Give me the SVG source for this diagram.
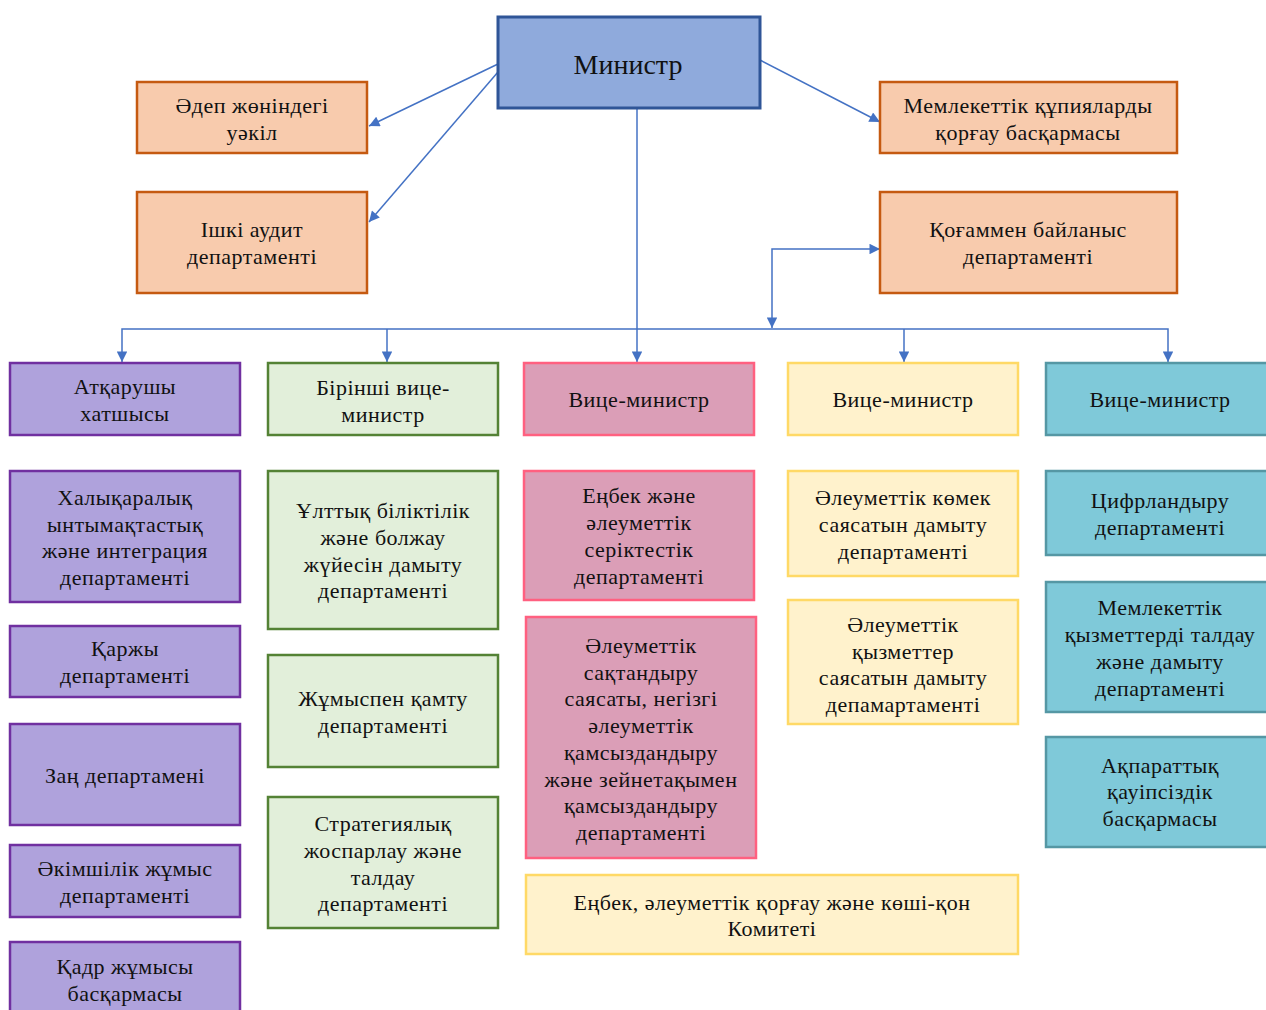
<svg xmlns="http://www.w3.org/2000/svg" width="1266" height="1010" viewBox="0 0 1266 1010">
<defs>
<marker id="ah" viewBox="0 0 10 10" refX="10" refY="5" markerWidth="8" markerHeight="7" markerUnits="strokeWidth" orient="auto-start-reverse">
<path d="M0,0 L10,5 L0,10 z" fill="#4472C4"/>
</marker>
<style>
text{font-family:"Liberation Serif","Times New Roman",serif;font-size:22px;letter-spacing:0.5px;fill:#111;text-anchor:middle}
.big{font-size:28px;letter-spacing:0}
rect{stroke-width:2.5}
.min{fill:#8FAADC;stroke:#2F5597;stroke-width:3}
.or{fill:#F8CBAD;stroke:#C55A11}
.pu{fill:#AFA2DC;stroke:#7030A0}
.gr{fill:#E2EFDA;stroke:#548235}
.pk{fill:#DB9EB7;stroke:#FF6080}
.ye{fill:#FFF2CC;stroke:#FFD966}
.te{fill:#7FC9D9;stroke:#5597A4}
.c{fill:none;stroke:#4472C4;stroke-width:1.5}
</style>
</defs>
<rect width="1266" height="1010" fill="#fff"/>
<g id="connectors">
<line class="c" x1="498" y1="64" x2="369" y2="126" marker-end="url(#ah)"/>
<line class="c" x1="498" y1="72" x2="369" y2="222" marker-end="url(#ah)"/>
<line class="c" x1="760" y1="60" x2="880" y2="122" marker-end="url(#ah)"/>
<line class="c" x1="637" y1="108" x2="637" y2="362" marker-end="url(#ah)"/>
<polyline class="c" points="122,362 122,329 1168,329 1168,362" marker-start="url(#ah)" marker-end="url(#ah)"/>
<line class="c" x1="387" y1="329" x2="387" y2="362" marker-end="url(#ah)"/>
<line class="c" x1="904" y1="329" x2="904" y2="362" marker-end="url(#ah)"/>
<polyline class="c" points="772,328 772,249 880,249" marker-start="url(#ah)" marker-end="url(#ah)"/>
</g>
<g id="minister"><rect class="min" x="498" y="17" width="262" height="91"/><text class="big" x="628" y="74">Министр</text></g>
<g id="adep"><rect class="or" x="137" y="82" width="230" height="71"/><text x="252" y="113">Әдеп жөніндегі</text><text x="252" y="140">уәкіл</text></g>
<g id="audit"><rect class="or" x="137" y="192" width="230" height="101"/><text x="252" y="237">Ішкі аудит</text><text x="252" y="264">департаменті</text></g>
<g id="qupiya"><rect class="or" x="880" y="82" width="297" height="71"/><text x="1028" y="113">Мемлекеттік құпияларды</text><text x="1028" y="140">қорғау басқармасы</text></g>
<g id="qogam"><rect class="or" x="880" y="192" width="297" height="101"/><text x="1028" y="237">Қоғаммен байланыс</text><text x="1028" y="264">департаменті</text></g>

<g id="hatshy"><rect class="pu" x="10" y="363" width="230" height="72"/><text x="125" y="394">Атқарушы</text><text x="125" y="421">хатшысы</text></g>
<g id="birinshi"><rect class="gr" x="268" y="363" width="230" height="72"/><text x="383" y="395">Бірінші вице-</text><text x="383" y="422">министр</text></g>
<g id="vice-pink"><rect class="pk" x="524" y="363" width="230" height="72"/><text x="639" y="407">Вице-министр</text></g>
<g id="vice-yellow"><rect class="ye" x="788" y="363" width="230" height="72"/><text x="903" y="407">Вице-министр</text></g>
<g id="vice-teal"><rect class="te" x="1046" y="363" width="230" height="72"/><text x="1160" y="407">Вице-министр</text></g>

<g id="halyq"><rect class="pu" x="10" y="471" width="230" height="131"/><text x="125" y="505">Халықаралық</text><text x="125" y="532">ынтымақтастық</text><text x="125" y="558">және интеграция</text><text x="125" y="585">департаменті</text></g>
<g id="qarzhy"><rect class="pu" x="10" y="626" width="230" height="71"/><text x="125" y="656">Қаржы</text><text x="125" y="683">департаменті</text></g>
<g id="zan"><rect class="pu" x="10" y="724" width="230" height="101"/><text x="125" y="783">Заң департамені</text></g>
<g id="akimshilik"><rect class="pu" x="10" y="845" width="230" height="72"/><text x="125" y="876">Әкімшілік жұмыс</text><text x="125" y="903">департаменті</text></g>
<g id="qadr"><rect class="pu" x="10" y="942" width="230" height="80"/><text x="125" y="974">Қадр жұмысы</text><text x="125" y="1001">басқармасы</text></g>

<g id="ulttyq"><rect class="gr" x="268" y="471" width="230" height="158"/><text x="383" y="518">Ұлттық біліктілік</text><text x="383" y="545">және болжау</text><text x="383" y="572">жүйесін дамыту</text><text x="383" y="598">департаменті</text></g>
<g id="zhumyspen"><rect class="gr" x="268" y="655" width="230" height="112"/><text x="383" y="706">Жұмыспен қамту</text><text x="383" y="733">департаменті</text></g>
<g id="strateg"><rect class="gr" x="268" y="797" width="230" height="131"/><text x="383" y="831">Стратегиялық</text><text x="383" y="858">жоспарлау және</text><text x="383" y="885">талдау</text><text x="383" y="911">департаменті</text></g>

<g id="enbek"><rect class="pk" x="524" y="471" width="230" height="129"/><text x="639" y="503">Еңбек және</text><text x="639" y="530">әлеуметтік</text><text x="639" y="557">серіктестік</text><text x="639" y="584">департаменті</text></g>
<g id="saqtandyru"><rect class="pk" x="526" y="617" width="230" height="241"/><text x="641" y="653">Әлеуметтік</text><text x="641" y="680">сақтандыру</text><text x="641" y="706">саясаты, негізгі</text><text x="641" y="733">әлеуметтік</text><text x="641" y="760">қамсыздандыру</text><text x="641" y="787">және зейнетақымен</text><text x="641" y="813">қамсыздандыру</text><text x="641" y="840">департаменті</text></g>

<g id="komek"><rect class="ye" x="788" y="471" width="230" height="105"/><text x="903" y="505">Әлеуметтік көмек</text><text x="903" y="532">саясатын дамыту</text><text x="903" y="559">департаменті</text></g>
<g id="qyzmetter"><rect class="ye" x="788" y="600" width="230" height="124"/><text x="903" y="632">Әлеуметтік</text><text x="903" y="659">қызметтер</text><text x="903" y="685">саясатын дамыту</text><text x="903" y="712">депамартаменті</text></g>
<g id="komitet"><rect class="ye" x="526" y="875" width="492" height="79"/><text x="772" y="910">Еңбек, әлеуметтік қорғау және көші-қон</text><text x="772" y="936">Комитеті</text></g>

<g id="cifr"><rect class="te" x="1046" y="471" width="230" height="84"/><text x="1160" y="508">Цифрландыру</text><text x="1160" y="535">департаменті</text></g>
<g id="memqyzmet"><rect class="te" x="1046" y="582" width="230" height="130"/><text x="1160" y="615">Мемлекеттік</text><text x="1160" y="642">қызметтерді талдау</text><text x="1160" y="669">және дамыту</text><text x="1160" y="696">департаменті</text></g>
<g id="aqparat"><rect class="te" x="1046" y="737" width="230" height="110"/><text x="1160" y="773">Ақпараттық</text><text x="1160" y="799">қауіпсіздік</text><text x="1160" y="826">басқармасы</text></g>
</svg>
